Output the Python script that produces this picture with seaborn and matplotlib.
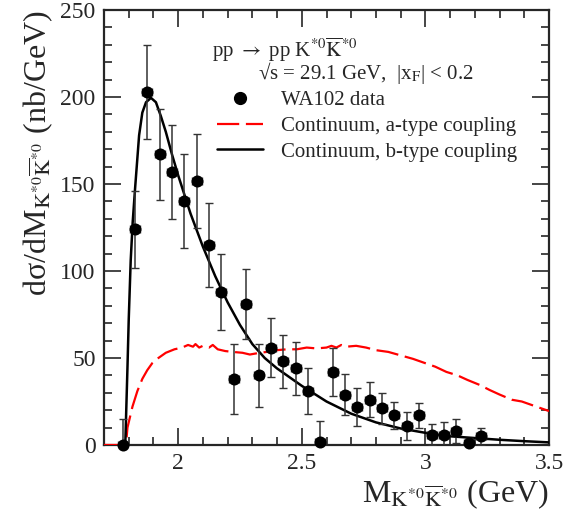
import numpy as np
import pandas as pd
import matplotlib
matplotlib.use("Agg")
import matplotlib.pyplot as plt
from matplotlib.ticker import MultipleLocator
from matplotlib.lines import Line2D
import seaborn as sns

# ---- data ----
mass = [1.775, 1.825, 1.875, 1.925, 1.975, 2.025, 2.075, 2.125, 2.175, 2.225,
        2.275, 2.325, 2.375, 2.425, 2.475, 2.525, 2.575, 2.625, 2.675, 2.725,
        2.775, 2.825, 2.875, 2.925, 2.975, 3.025, 3.075, 3.125, 3.175, 3.225]
xsec = [0, 124, 203, 167, 157, 140, 152, 115, 88, 38,
        81, 40, 56, 48, 44, 31, 2, 42, 29, 22,
        26, 21, 17, 11, 17, 6, 6, 8, 1, 5]
xsec_err = [15, 22, 27, 26, 27, 27, 27, 24, 22, 20,
            20, 18, 17, 15, 15, 13, 12, 14, 12, 11,
            10, 9, 8, 8, 7, 6, 7, 7, 3, 5]
bin_half = 0.02

b_mass = [1.786, 1.790, 1.795, 1.800, 1.808, 1.816, 1.826, 1.842, 1.855, 1.870,
          1.890, 1.910, 1.930, 1.950, 1.975, 2.000, 2.050, 2.100, 2.150, 2.200,
          2.250, 2.300, 2.350, 2.400, 2.450, 2.500, 2.600, 2.700, 2.800, 2.900,
          3.000, 3.100, 3.200, 3.300, 3.400, 3.500]
b_curve = [0, 20, 45, 72, 106, 128, 148, 178, 191, 197,
           199.5, 197, 189, 180, 167, 155, 133, 114, 97, 82,
           69, 58, 50, 44, 39, 34, 25, 18, 13, 9.5,
           7, 5, 4, 3, 2.2, 1.5]

a_mass = [1.70, 1.785, 1.790, 1.795, 1.815, 1.835, 1.855, 1.875, 1.895, 1.920,
          1.950, 1.985, 2.016, 2.04, 2.06, 2.07, 2.085, 2.10, 2.125, 2.14,
          2.16, 2.19, 2.22, 2.26, 2.29, 2.33, 2.36, 2.40, 2.44, 2.48,
          2.52, 2.56, 2.60, 2.62, 2.64, 2.66, 2.68, 2.72, 2.76, 2.80,
          2.85, 2.90, 2.95, 2.99, 3.04, 3.085, 3.13, 3.17, 3.22, 3.26,
          3.30, 3.35, 3.39, 3.43, 3.47, 3.50]
a_curve = [0, 0, 2, 10, 22, 31, 38, 43, 47, 50,
           53, 55, 56, 57.5, 56.5, 58, 56, 57, 56, 57.5,
           55, 54, 53.5, 53, 52, 53, 53.5, 54.5, 55, 55,
           56, 55.5, 56, 57, 56, 57.5, 56.5, 57, 56, 54.5,
           53.5, 51.5, 49.5, 47.5, 45, 42, 40, 37.4, 34.5, 31.6,
           29, 26, 25, 23, 21, 19.5]

legend_labels = ["WA102 data", "Continuum, a-type coupling", "Continuum, b-type coupling"]

data_df = pd.DataFrame({"m": mass, "y": xsec, "e": xsec_err})
a_df = pd.DataFrame({"m": a_mass, "y": a_curve})
b_df = pd.DataFrame({"m": b_mass, "y": b_curve})

# ---- style ----
sns.set_style("ticks")
plt.rcParams["font.family"] = ["Liberation Serif", "DejaVu Serif"]
plt.rcParams["mathtext.fontset"] = "stix"
plt.rcParams["axes.linewidth"] = 1.6

fig = plt.figure(figsize=(5.63, 5.19), dpi=100)
ax = fig.add_axes([104/563, 1-445/519, (549-104)/563, (445-10)/519])

dash = (0, (10, 3))
sns.lineplot(data=a_df, x="m", y="y", ax=ax, color="#ff0000", lw=1.6,
             estimator=None, sort=False, linestyle=dash, zorder=3)
sns.lineplot(data=b_df, x="m", y="y", ax=ax, color="black", lw=1.8,
             estimator=None, sort=False, zorder=3)

ax.errorbar(data_df["m"], data_df["y"], yerr=data_df["e"], xerr=bin_half,
            fmt="none", ecolor="#333333", elinewidth=1.1, capsize=3, capthick=1.0,
            zorder=3)
sns.scatterplot(data=data_df, x="m", y="y", ax=ax, color="black", s=75,
                edgecolor="black", linewidth=0, zorder=4, clip_on=False)

ax.set_xlim(1.7, 3.5)
ax.set_ylim(0, 250)
ax.xaxis.set_major_locator(MultipleLocator(0.5))
ax.xaxis.set_minor_locator(MultipleLocator(0.1))
ax.yaxis.set_major_locator(MultipleLocator(50))
ax.yaxis.set_minor_locator(MultipleLocator(10))
ax.set_xticks([2.0, 2.5, 3.0, 3.5])
ax.set_xticklabels(["2", "2.5", "3", "3.5"])
ax.tick_params(which="both", direction="in", top=True, right=True,
               labelsize=17, width=1.2)
ax.tick_params(which="major", length=12)
ax.tick_params(which="minor", length=6)
ax.tick_params(axis="x", pad=6)
ax.tick_params(axis="y", pad=6)
for side in ["top", "right", "left", "bottom"]:
    ax.spines[side].set_visible(True)

ax.set_xlabel(r"M$_{\mathrm{K}^{*0}\overline{\mathrm{K}}^{*0}}$ (GeV)", fontsize=23,
              loc="right", labelpad=2)
ax.set_ylabel(r"dσ/dM$_{\mathrm{K}^{*0}\overline{\mathrm{K}}^{*0}}$ (nb/GeV)",
              fontsize=23, loc="top", labelpad=4)

ax.text(0.243, 0.908, r"pp $\rightarrow$ pp K$^{*0}\overline{\mathrm{K}}^{*0}$",
        transform=ax.transAxes, fontsize=15, va="center", ha="left")
ax.text(0.346, 0.855, r"√s = 29.1 GeV,  |x$_\mathrm{F}$| < 0.2",
        transform=ax.transAxes, fontsize=15, va="center", ha="left")

handles = [Line2D([], [], color="black", marker="o", ls="none", markersize=8.5),
           Line2D([], [], color="#ff0000", lw=1.6, ls=dash),
           Line2D([], [], color="black", lw=1.8)]
ax.legend(handles, legend_labels, loc="upper left", bbox_to_anchor=(0.254, 0.815),
          frameon=False, fontsize=15, handlelength=2.2, handletextpad=0.85,
          labelspacing=0.3, borderpad=0, borderaxespad=0)

fig.savefig("out.png", dpi=100)
